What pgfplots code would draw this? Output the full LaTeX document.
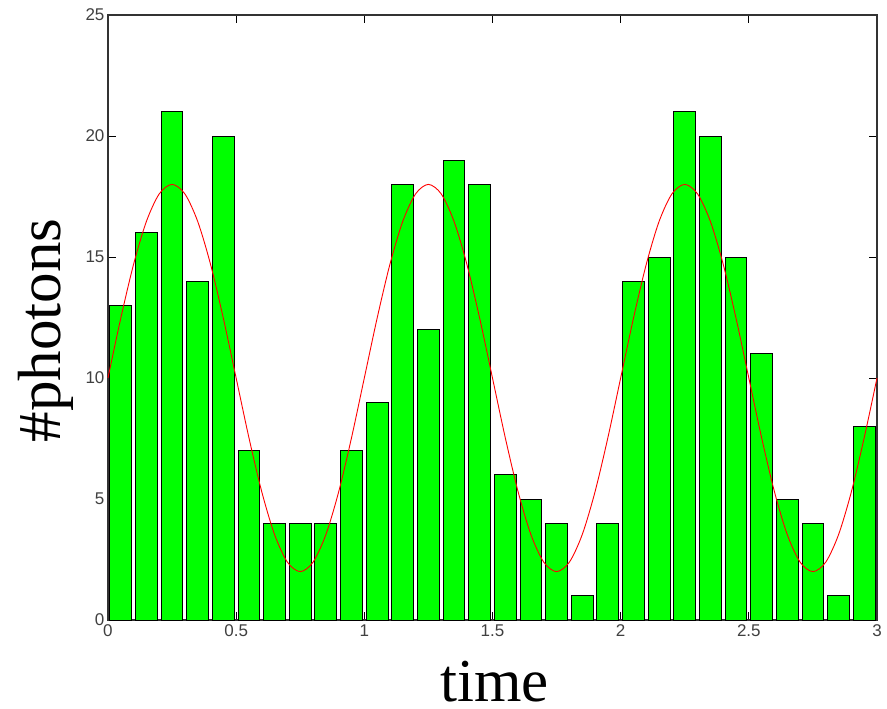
\documentclass[border=0pt]{standalone}
\usepackage{pgfplots}
\pgfplotsset{compat=1.18}
\usepackage{fontspec}
\setmainfont{Liberation Serif}
\newfontfamily\tickfont{Liberation Sans}
\definecolor{bargreen}{RGB}{0,255,0}
\definecolor{ticktext}{RGB}{64,64,64}
\pgfplotstableread{
x y
0.05 13
0.15 16
0.25 21
0.35 14
0.45 20
0.55 7
0.65 4
0.75 4
0.85 4
0.95 7
1.05 9
1.15 18
1.25 12
1.35 19
1.45 18
1.55 6
1.65 5
1.75 4
1.85 1
1.95 4
2.05 14
2.15 15
2.25 21
2.35 20
2.45 15
2.55 11
2.65 5
2.75 4
2.85 1
2.95 8
}\bars
\pgfplotstableread{
x y
0.00 10.000
0.05 12.472
0.10 14.702
0.15 16.472
0.20 17.608
0.25 18.000
0.30 17.608
0.35 16.472
0.40 14.702
0.45 12.472
0.50 10.000
0.55 7.528
0.60 5.298
0.65 3.528
0.70 2.392
0.75 2.000
0.80 2.392
0.85 3.528
0.90 5.298
0.95 7.528
1.00 10.000
1.05 12.472
1.10 14.702
1.15 16.472
1.20 17.608
1.25 18.000
1.30 17.608
1.35 16.472
1.40 14.702
1.45 12.472
1.50 10.000
1.55 7.528
1.60 5.298
1.65 3.528
1.70 2.392
1.75 2.000
1.80 2.392
1.85 3.528
1.90 5.298
1.95 7.528
2.00 10.000
2.05 12.472
2.10 14.702
2.15 16.472
2.20 17.608
2.25 18.000
2.30 17.608
2.35 16.472
2.40 14.702
2.45 12.472
2.50 10.000
2.55 7.528
2.60 5.298
2.65 3.528
2.70 2.392
2.75 2.000
2.80 2.392
2.85 3.528
2.90 5.298
2.95 7.528
3.00 10.000
}\curve
\begin{document}
\begin{tikzpicture}
\begin{axis}[
  scale only axis,
  width=769pt, height=605pt,
  xmin=0, xmax=3, ymin=0, ymax=25,
  xtick={0,0.5,1,1.5,2,2.5,3},
  ytick={0,5,10,15,20,25},
  tick align=inside,
  major tick length=8pt,
  tick style={black, line width=1pt},
  axis line style={line width=1.2pt, black!80},
  /pgf/number format/assume math mode=true,
  ticklabel style={font=\fontsize{17}{17}\selectfont\tickfont, text=ticktext},
  xticklabel style={yshift=-1pt},
  xlabel={time},
  ylabel={\#photons},
  label style={font=\fontsize{61}{61}\selectfont, inner sep=0pt},
  xlabel style={at={(axis description cs:0.503,-0.135)}, anchor=base},
  ylabel style={at={(axis description cs:-0.081,0.479)}, anchor=center},
  clip=false,
]
\addplot[ybar, bar width=0.085, bar shift=0pt, fill=bargreen, draw=black, line width=1pt] table[x=x,y=y] {\bars};
\addplot[red, line width=0.9pt, smooth, mark=none] table[x=x,y=y] {\curve};
\path (axis description cs:-0.1404,-0.1455) rectangle (axis description cs:1.0130,1.0248);
\end{axis}
\end{tikzpicture}
\end{document}
